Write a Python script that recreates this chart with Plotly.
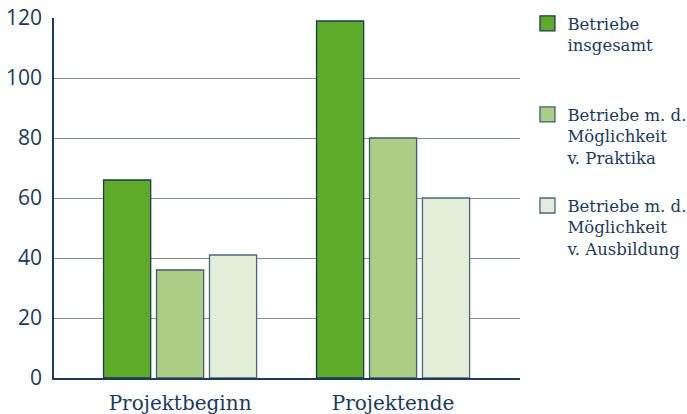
import plotly.graph_objects as go

categories = ["Projektbeginn", "Projektende"]
series_names = [
    "Betriebe<br>insgesamt",
    "Betriebe m. d.<br>Möglichkeit<br>v. Praktika",
    "Betriebe m. d.<br>Möglichkeit<br>v. Ausbildung",
]
insgesamt = [66, 119]
praktika = [36, 80]
ausbildung = [41, 60]

colors = ["#5dab29", "#abce84", "#e3eed8"]
line_colors = ["#1c3a56", "#3f5c78", "#4a6680"]
navy = "#1b3a5c"
legend_ids = ["legend", "legend2", "legend3"]
legend_y = [1.033, 0.780, 0.527]

fig = go.Figure()
for i, (name, vals) in enumerate(zip(series_names, [insgesamt, praktika, ausbildung])):
    fig.add_trace(go.Bar(
        x=categories, y=vals, name=name, showlegend=False,
        marker=dict(color=colors[i], line=dict(color=line_colors[i], width=1.3)),
    ))
    # legend entry with a larger square swatch
    fig.add_trace(go.Scatter(
        x=[None], y=[None], name=name, mode="markers", legend=legend_ids[i],
        marker=dict(symbol="square", size=15, color=colors[i],
                    line=dict(color=line_colors[i], width=1.3)),
        hoverinfo="skip",
    ))

leg_common = dict(
    x=1.016, xanchor="left", yanchor="top",
    font=dict(family="DejaVu Serif", size=16.5, color=navy),
    valign="top", bgcolor="rgba(0,0,0,0)", itemsizing="trace",
)

W, H = 687, 414
ml, mr, mt, mb = 54, 167, 18, 36
fig.update_layout(
    width=W, height=H,
    margin=dict(l=ml, r=mr, t=mt, b=mb, pad=0, autoexpand=False),
    paper_bgcolor="white", plot_bgcolor="white",
    barmode="group", bargap=0.254, bargroupgap=0.11,
    showlegend=True,
    legend=dict(y=legend_y[0], **leg_common),
    legend2=dict(y=legend_y[1], **leg_common),
    legend3=dict(y=legend_y[2], **leg_common),
    xaxis=dict(
        range=[-0.592, 1.596], showgrid=False, automargin=False,
        showline=True, linecolor=navy, linewidth=2,
        tickfont=dict(family="DejaVu Serif", size=20, color=navy),
        ticks="", ticklabelstandoff=6,
    ),
    yaxis=dict(
        range=[0, 120], dtick=20, showgrid=True, automargin=False,
        gridcolor="#7d8ca3", gridwidth=1.2,
        showline=True, linecolor=navy, linewidth=1.5,
        tickfont=dict(family="Open Sans", size=21, color=navy),
        ticks="", ticklabelstandoff=6, zeroline=False,
    ),
)
fig.write_html("out.html", config={"displayModeBar": False},
               post_script="document.body.style.margin='0';")
